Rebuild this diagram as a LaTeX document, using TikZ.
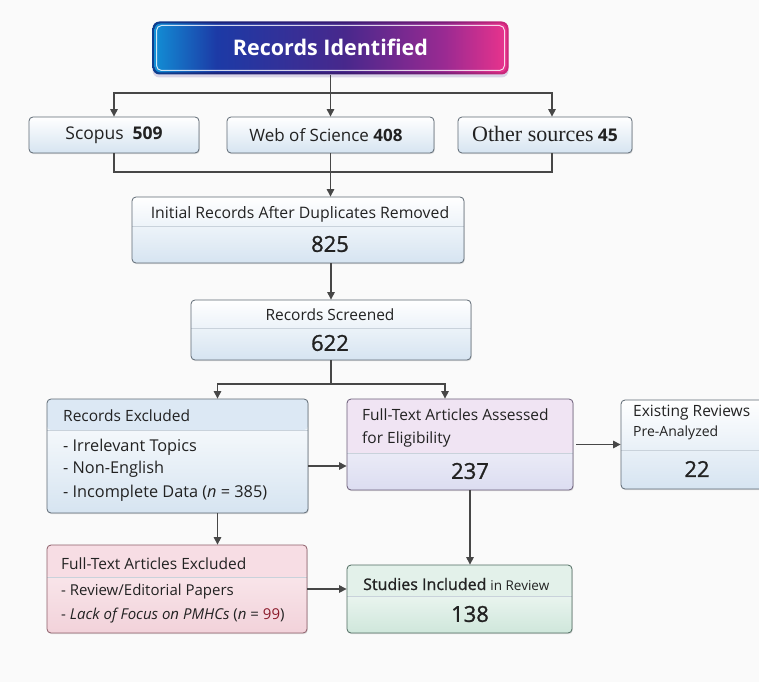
\documentclass[tikz,border=0pt]{standalone}
\usepackage{fontspec}
\setmainfont{Open Sans}
\newfontfamily\serifOther{Liberation Serif}
\newfontfamily\semib[FakeBold=1.1]{Open Sans}
\usetikzlibrary{arrows.meta,shadows}
\definecolor{bg}{HTML}{FAFAFA}
\definecolor{bordergray}{HTML}{5E6974}
\definecolor{linegray}{HTML}{474747}
\definecolor{txt}{HTML}{222222}
\definecolor{divc}{HTML}{C9D2DB}
\definecolor{bodyblue}{HTML}{D6E4F1}
\definecolor{hdrblue}{HTML}{DCE8F4}
\definecolor{hdrpurple}{HTML}{F0E4F3}
\definecolor{bodypurple}{HTML}{DCDDF1}
\definecolor{borderpurple}{HTML}{6A5C78}
\definecolor{hdrpink}{HTML}{F7DDE4}
\definecolor{midpink}{HTML}{FCEFF2}
\definecolor{bodypink}{HTML}{F2D2DA}
\definecolor{borderpink}{HTML}{8C5E69}
\definecolor{hdrgreen}{HTML}{E3F1EA}
\definecolor{bodygreen}{HTML}{CFE7DB}
\definecolor{bordergreen}{HTML}{4F6B60}
\definecolor{darkred}{HTML}{8B1A2A}
\definecolor{ridA}{HTML}{1290D6}
\definecolor{ridB}{HTML}{1C3AA6}
\definecolor{ridC}{HTML}{48288C}
\definecolor{ridD}{HTML}{9A2A92}
\definecolor{ridE}{HTML}{EC338C}
\definecolor{rbA}{HTML}{0D3F8F}
\definecolor{rbB}{HTML}{1B2378}
\definecolor{rbC}{HTML}{3A1B72}
\definecolor{rbD}{HTML}{7A1E78}
\definecolor{rbE}{HTML}{D0287A}
\pgfdeclarehorizontalshading{recid}{100bp}{color(0bp)=(ridA); color(25bp)=(ridA); color(34bp)=(ridB); color(52bp)=(ridC); color(66bp)=(ridD); color(75bp)=(ridE); color(100bp)=(ridE)}
\pgfdeclarehorizontalshading{recidborder}{100bp}{color(0bp)=(rbA); color(25bp)=(rbA); color(34bp)=(rbB); color(52bp)=(rbC); color(66bp)=(rbD); color(75bp)=(rbE); color(100bp)=(rbE)}
\tikzset{
  pbox/.style={draw=bordergray, line width=0.8pt, rounded corners=4pt, inner sep=0pt,
    top color=white, bottom color=bodyblue,
    drop shadow={shadow xshift=0.8pt, shadow yshift=-1.2pt, opacity=0.22}},
  hdr/.style 2 args={path picture={
    \fill[#1] (path picture bounding box.north west) rectangle ([yshift=-#2]path picture bounding box.north east);
    \draw[divc, line width=0.8pt] ([yshift=-#2]path picture bounding box.north west) -- ([yshift=-#2]path picture bounding box.north east);}},
  divonly/.style={path picture={
    \draw[divc, line width=0.8pt] ([yshift=-#1]path picture bounding box.north west) -- ([yshift=-#1]path picture bounding box.north east);}},
  lbl/.style={text=txt, inner sep=0pt, font=\fontsize{15.5}{18}\selectfont},
  num/.style={text=txt, inner sep=0pt, font=\semib\fontsize{22}{26}\selectfont},
  conn/.style={draw=linegray, line width=1.1pt},
  arr/.style={conn, -{Triangle[length=7.5pt,width=7.5pt]}},
}
\begin{document}
\begin{tikzpicture}[x=1pt,y=-1pt]
\fill[bg] (0,0) rectangle (759,682);
\clip (0,0) rectangle (759,682);
\useasboundingbox (0,0) rectangle (759,682);

% Records Identified
\node[shading=recidborder, rounded corners=7pt,
  minimum width=356pt, minimum height=53pt, inner sep=0pt,
  drop shadow={shadow xshift=0pt, shadow yshift=-3pt, opacity=0.18, fill=ridC},
  path picture={
    \shade[shading=recid, rounded corners=6pt]
    ([shift={(2pt,-2pt)}]path picture bounding box.north west) rectangle
    ([shift={(-2pt,2pt)}]path picture bounding box.south east);
    \draw[white, opacity=0.8, line width=1pt, rounded corners=5pt]
    ([shift={(4pt,-4pt)}]path picture bounding box.north west) rectangle
    ([shift={(-4pt,4pt)}]path picture bounding box.south east);}]
  (rid) at (330.5,48) {};
\node[text=white, font=\fontsize{21.5}{25}\selectfont\bfseries, inner sep=0pt] (ridt) at (330.5,47) {Records Identified};

% Sources
\node[pbox, minimum width=170pt, minimum height=36pt] (scopus) at (114,135) {};
\node[lbl, font=\fontsize{17.5}{20}\selectfont] (scopust) at (scopus) {Scopus\enspace\textbf{509}};
\node[pbox, minimum width=207pt, minimum height=36pt] (wos) at (330.5,135) {};
\node[lbl, font=\fontsize{17}{20}\selectfont] (wost) at (326,135) {Web of Science \textbf{408}};
\node[pbox, minimum width=174pt, minimum height=36pt] (other) at (545,135) {};
\node[lbl] (othert) at (545,134) {{\serifOther\fontsize{22}{24}\selectfont Other sources} \textbf{\fontsize{17.5}{20}\selectfont 45}};

% Initial records
\node[pbox, divonly=29pt, minimum width=332pt, minimum height=66pt] (init) at (298,230) {};
\node[lbl, font=\fontsize{15.8}{18}\selectfont] (initt) at (300,214) {Initial Records After Duplicates Removed};
\node[num] (initn) at (330,244) {825};

% Screened
\node[pbox, divonly=28pt, minimum width=280pt, minimum height=60pt] (scr) at (331,330) {};
\node[lbl] (scrt) at (330,315) {Records Screened};
\node[num] (scrn) at (330,343) {622};

% Records excluded
\node[pbox, hdr={hdrblue}{31pt}, minimum width=261pt, minimum height=114pt] (excl) at (177.5,456) {};
\node[lbl, anchor=west] (exclt) at (63,416) {Records Excluded};
\node[lbl, anchor=west, font=\fontsize{16.3}{19}\selectfont] (excl1) at (63,447) {- Irrelevant Topics};
\node[lbl, anchor=west, font=\fontsize{16.3}{19}\selectfont] (excl2) at (63,469) {- Non-English};
\node[lbl, anchor=west, font=\fontsize{16.3}{19}\selectfont] (excl3) at (63,493) {- Incomplete Data (\textit{n} = 385)};

% Full-text assessed
\node[pbox, draw=borderpurple, top color=white, bottom color=bodypurple, hdr={hdrpurple}{54pt},
  minimum width=226pt, minimum height=91pt] (ass) at (460,444.5) {};
\node[lbl, anchor=west, align=left, font=\fontsize{15.5}{23}\selectfont] (asst) at (362,428) {Full-Text Articles Assessed\\for Eligibility};
\node[num] (assn) at (470,471) {237};

% Existing reviews
\node[pbox, divonly=50pt, minimum width=160pt, minimum height=89pt] (exist) at (701,444.5) {};
\node[lbl, anchor=west] (existt) at (633,413) {Existing Reviews};
\node[lbl, anchor=west, font=\fontsize{14}{16}\selectfont] (existt2) at (633,433) {Pre-Analyzed};
\node[num] (existn) at (697,469) {22};

% Full-text excluded
\node[pbox, draw=borderpink, top color=midpink, bottom color=bodypink, hdr={hdrpink}{32pt},
  minimum width=260pt, minimum height=88pt] (ftex) at (177,589) {};
\node[lbl, anchor=west] (ftext) at (61,564) {Full-Text Articles Excluded};
\node[lbl, anchor=west, font=\fontsize{15}{18}\selectfont] (ftex1) at (61,592) {- Review/Editorial Papers};
\node[lbl, anchor=west, font=\fontsize{15}{18}\selectfont] (ftex2) at (61,616) {- \textit{Lack of Focus on PMHCs} (\textit{n} = \textcolor{darkred}{99})};

% Studies included
\node[pbox, draw=bordergreen, top color=white, bottom color=bodygreen, hdr={hdrgreen}{31pt},
  minimum width=225pt, minimum height=68pt] (stud) at (459.5,599) {};
\node[lbl, anchor=west] (studt) at (363,584) {{\semib\fontsize{16}{18}\selectfont Studies Included} {\fontsize{13.5}{16}\selectfont in Review}};
\node[num] (studn) at (470,614) {138};

% Connectors
\coordinate (jtop) at (330.5,93);
\coordinate (jbot) at (330.5,172);
\coordinate (jscr) at (331,384);
\draw[conn] (rid.south) -- (jtop);
\draw[arr] (jtop) -| (scopus.north);
\draw[arr] (jtop) -- (wos.north);
\coordinate (otop) at ([xshift=7pt]other.north);
\coordinate (obot) at ([xshift=7pt]other.south);
\draw[arr] (jtop) -| (otop);
\draw[conn] (scopus.south) |- (jbot);
\draw[conn] (obot) |- (jbot);
\draw[conn] (wos.south) -- (jbot);
\draw[arr] (jbot) -- (jbot |- init.north);
\draw[arr] (init.south -| scr.north) -- (scr.north);
\draw[conn] (scr.south) -- (jscr);
\coordinate (exin) at ([xshift=40pt]excl.north);
\coordinate (assin) at ([xshift=-15pt]ass.north);
\draw[arr] (jscr) -| (exin);
\draw[arr] (jscr) -| (assin);
\coordinate (exout) at ([yshift=-10pt]excl.east);
\draw[arr] (exout) -- (exout -| ass.west);
\draw[arr] ([xshift=3pt]ass.east) -- (exist.west);
\coordinate (exdown) at ([xshift=40pt]excl.south);
\draw[arr] (exdown) -- (exdown |- ftex.north);
\draw[arr] (ftex.east) -- (ftex.east -| stud.west);
\coordinate (assdown) at ([xshift=10pt]ass.south);
\draw[arr] (assdown) -- (assdown |- stud.north);
\end{tikzpicture}
\end{document}
